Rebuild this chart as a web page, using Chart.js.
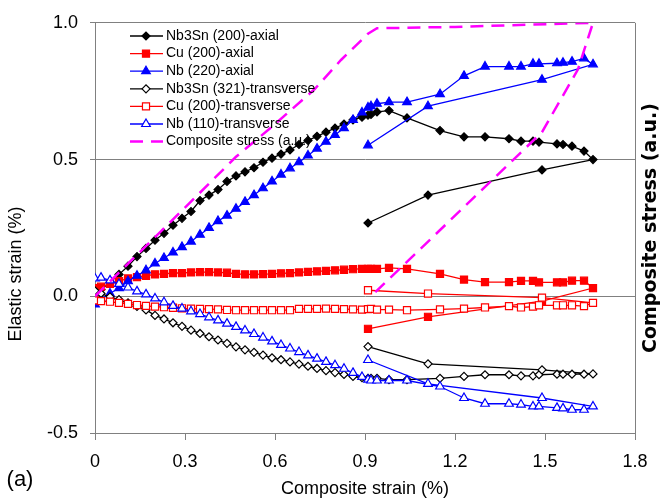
<!DOCTYPE html>
<html>
<head>
<meta charset="utf-8">
<script src="https://cdn.jsdelivr.net/npm/chart.js@4.4.1/dist/chart.umd.min.js"></script>
<style>
  html, body { margin: 0; padding: 0; background: #fff; }
  #wrap { width: 665px; height: 502px; position: relative; }
</style>
</head>
<body>
<div id="wrap"><canvas id="strainChart"></canvas></div>
<script>
// composite strain (%) of each diffraction measurement (load up to 1.66 %, then unload)
const strain = [0.00, 0.02, 0.05, 0.08, 0.11, 0.14, 0.17, 0.20, 0.23, 0.26,
                0.29, 0.32, 0.35, 0.38, 0.41, 0.44, 0.47, 0.50, 0.53, 0.56,
                0.59, 0.62, 0.65, 0.68, 0.71, 0.74, 0.77, 0.80, 0.83, 0.86,
                0.89, 0.91, 0.92, 0.94, 0.98, 1.04, 1.15, 1.23, 1.30, 1.38,
                1.42, 1.46, 1.48, 1.54, 1.56, 1.59, 1.63, 1.66, 1.49, 1.11, 0.91];

// elastic strain (%) per peak
const nb3snAxial = [0.010, 0.025, 0.050, 0.080, 0.110, 0.145, 0.175, 0.205, 0.230, 0.260,
                    0.285, 0.310, 0.350, 0.370, 0.390, 0.420, 0.440, 0.455, 0.470, 0.490,
                    0.505, 0.520, 0.535, 0.555, 0.570, 0.585, 0.600, 0.615, 0.630, 0.645,
                    0.655, 0.662, 0.665, 0.674, 0.679, 0.652, 0.606, 0.583, 0.583, 0.576,
                    0.567, 0.567, 0.564, 0.557, 0.555, 0.549, 0.531, 0.500, 0.462, 0.370, 0.268];
const cuAxial = [0.030, 0.035, 0.045, 0.055, 0.065, 0.070, 0.075, 0.080, 0.082, 0.085,
                 0.085, 0.087, 0.088, 0.088, 0.087, 0.086, 0.082, 0.080, 0.080, 0.081,
                 0.082, 0.084, 0.085, 0.087, 0.089, 0.091, 0.093, 0.095, 0.097, 0.099,
                 0.100, 0.100, 0.100, 0.100, 0.104, 0.100, 0.082, 0.061, 0.052, 0.052,
                 0.056, 0.056, 0.051, 0.051, 0.051, 0.057, 0.057, 0.030, -0.018, -0.075, -0.119];
const nbAxial = [-0.030, -0.010, 0.010, 0.030, 0.055, 0.075, 0.095, 0.120, 0.140, 0.160,
                 0.180, 0.200, 0.225, 0.250, 0.275, 0.295, 0.320, 0.345, 0.370, 0.395,
                 0.420, 0.445, 0.468, 0.490, 0.515, 0.540, 0.565, 0.590, 0.615, 0.645,
                 0.672, 0.690, 0.695, 0.704, 0.710, 0.710, 0.739, 0.806, 0.840, 0.840,
                 0.840, 0.850, 0.850, 0.852, 0.854, 0.858, 0.870, 0.848, 0.792, 0.695, 0.552];
const nb3snTrans = [0.020, 0.010, -0.002, -0.012, -0.024, -0.037, -0.050, -0.070, -0.083, -0.097,
                    -0.110, -0.124, -0.136, -0.148, -0.160, -0.172, -0.185, -0.196, -0.205, -0.215,
                    -0.225, -0.232, -0.240, -0.248, -0.256, -0.264, -0.272, -0.279, -0.286, -0.293,
                    -0.298, -0.300, -0.300, -0.300, -0.305, -0.305, -0.300, -0.293, -0.287, -0.287,
                    -0.291, -0.291, -0.287, -0.285, -0.285, -0.285, -0.285, -0.284, -0.269, -0.247, -0.184];
const cuTrans = [-0.015, -0.018, -0.020, -0.024, -0.028, -0.032, -0.035, -0.038, -0.040, -0.042,
                 -0.044, -0.045, -0.046, -0.047, -0.048, -0.050, -0.051, -0.051, -0.051, -0.051,
                 -0.051, -0.051, -0.051, -0.046, -0.046, -0.046, -0.045, -0.046, -0.047, -0.048,
                 -0.049, -0.047, -0.046, -0.049, -0.049, -0.051, -0.048, -0.045, -0.041, -0.036,
                 -0.041, -0.038, -0.033, -0.033, -0.033, -0.033, -0.036, -0.024, -0.005, 0.010, 0.022];
const nbTrans = [0.065, 0.068, 0.058, 0.045, 0.032, 0.018, 0.007, -0.008, -0.022, -0.035,
                 -0.045, -0.055, -0.065, -0.077, -0.088, -0.100, -0.112, -0.125, -0.138, -0.151,
                 -0.165, -0.178, -0.191, -0.204, -0.216, -0.228, -0.240, -0.252, -0.265, -0.280,
                 -0.295, -0.305, -0.308, -0.308, -0.308, -0.308, -0.330, -0.372, -0.393, -0.393,
                 -0.396, -0.403, -0.403, -0.408, -0.410, -0.415, -0.415, -0.403, -0.372, -0.320, -0.233];

// composite stress curve (a.u.), on its own hidden right-hand scale
const stressStrain = [0.00, 0.12, 0.25, 0.47, 0.59, 0.73, 0.82, 0.91, 0.94, 1.20, 1.66, 1.61, 1.49, 0.92];
const stressLevel  = [0.00, 0.13, 0.27, 0.51, 0.62, 0.755, 0.864, 0.96, 0.98, 0.985, 1.00, 0.83, 0.60, 0.00];

const xTicks = [0, 0.3, 0.6, 0.9, 1.2, 1.5, 1.8];
const yTicks = [-0.5, 0.0, 0.5, 1.0];

const GRID = '#808080';
const FONT = '"Liberation Sans", Arial, sans-serif';

function pts(xs, ys) {
    return xs.map((x, i) => ({ x: x, y: ys[i] }));
}

function series(label, ys, color, style, filled, radius, order) {
    return {
        label: label,
        data: pts(strain, ys),
        showLine: true,
        borderColor: color,
        backgroundColor: color,
        borderWidth: 1.3,
        pointStyle: style,
        pointRadius: radius,
        pointBorderWidth: 1.2,
        pointBorderColor: color,
        pointBackgroundColor: filled ? color : '#ffffff',
        order: order
    };
}

const datasets = [
    series('Nb3Sn (200)-axial', nb3snAxial, '#000000', 'rectRot', true, 4, 6),
    series('Cu (200)-axial', cuAxial, '#ff0000', 'rect', true, 5, 5),
    series('Nb (220)-axial', nbAxial, '#0000ff', 'triangle', true, 5, 4),
    series('Nb3Sn (321)-transverse', nb3snTrans, '#000000', 'rectRot', false, 4, 3),
    series('Cu (200)-transverse', cuTrans, '#ff0000', 'rect', false, 5, 2),
    series('Nb (110)-transverse', nbTrans, '#0000ff', 'triangle', false, 5, 1),
    {
        label: 'Composite stress (a.u.)',
        data: pts(stressStrain, stressLevel),
        yAxisID: 'y2',
        showLine: true,
        borderColor: '#ff00ff',
        backgroundColor: '#ff00ff',
        borderWidth: 2.5,
        borderDash: [13, 8],
        pointRadius: 0,
        order: 0
    }
];

// legend inside the plot, titles, frame and panel label
const extras = {
    id: 'extras',
    afterDraw(chart) {
        const ctx = chart.ctx;
        const a = chart.chartArea;
        ctx.save();

        // right frame line
        ctx.strokeStyle = GRID;
        ctx.lineWidth = 1;
        ctx.beginPath();
        ctx.moveTo(Math.round(a.right) + 0.5, a.top);
        ctx.lineTo(Math.round(a.right) + 0.5, a.bottom);
        ctx.stroke();

        // legend
        ctx.font = '14px ' + FONT;
        ctx.textBaseline = 'middle';
        ctx.textAlign = 'left';
        chart.data.datasets.forEach((ds, i) => {
            const y = 36 + i * 17.6;
            ctx.strokeStyle = ds.borderColor;
            ctx.lineWidth = ds.borderWidth;
            ctx.setLineDash(ds.borderDash || []);
            ctx.beginPath();
            ctx.moveTo(130, y);
            ctx.lineTo(163, y);
            ctx.stroke();
            ctx.setLineDash([]);
            if (ds.pointRadius > 0) {
                ctx.fillStyle = ds.pointBackgroundColor;
                ctx.strokeStyle = ds.pointBorderColor;
                ctx.lineWidth = ds.pointBorderWidth;
                Chart.helpers.drawPoint(ctx, {
                    pointStyle: ds.pointStyle,
                    radius: ds.pointRadius,
                    rotation: 0,
                    borderWidth: ds.pointBorderWidth
                }, 146, y);
            }
            ctx.fillStyle = '#000';
            ctx.fillText(ds.label, 166, y);
        });

        // axis titles
        ctx.fillStyle = '#000';
        ctx.textAlign = 'center';
        ctx.textBaseline = 'middle';
        ctx.save();
        ctx.translate(16, 274);
        ctx.rotate(-Math.PI / 2);
        ctx.font = '18px ' + FONT;
        ctx.fillText('Elastic strain (%)', 0, 0);
        ctx.restore();

        ctx.save();
        ctx.translate(651, 228);
        ctx.rotate(-Math.PI / 2);
        ctx.font = 'bold 19px "DejaVu Sans", sans-serif';
        ctx.fillText('Composite stress (a.u.)', 0, 0);
        ctx.restore();

        ctx.font = '22px ' + FONT;
        ctx.fillText('(a)', 20, 480);
        ctx.restore();
    }
};

const ctx = document.getElementById('strainChart').getContext('2d');
const strainChart = new Chart(ctx, {
    type: 'scatter',
    data: { datasets: datasets },
    options: {
        responsive: true,
        maintainAspectRatio: false,
        animation: false,
        events: [],
        layout: { padding: { top: 20, right: 30, left: 0, bottom: 0 } },
        plugins: {
            legend: { display: false },
            tooltip: { enabled: false }
        },
        scales: {
            x: {
                type: 'linear',
                min: 0,
                max: 1.8,
                afterBuildTicks: scale => { scale.ticks = xTicks.map(v => ({ value: v })); },
                afterFit: scale => { scale.height = 69; },
                ticks: {
                    color: '#000',
                    padding: 11,
                    maxRotation: 0,
                    font: { family: FONT, size: 18 },
                    callback: v => v === 0 ? '0' : v.toFixed(1)
                },
                grid: { drawOnChartArea: false, color: GRID, tickLength: 7 },
                border: { color: GRID },
                title: {
                    display: true,
                    text: 'Composite strain (%)',
                    color: '#000',
                    font: { family: FONT, size: 18 },
                    padding: { top: 0, bottom: 2 }
                }
            },
            y: {
                type: 'linear',
                min: -0.5,
                max: 1.0,
                afterBuildTicks: scale => { scale.ticks = yTicks.map(v => ({ value: v })); },
                afterFit: scale => { scale.width = 95; },
                ticks: {
                    color: '#000',
                    padding: 12,
                    font: { family: FONT, size: 18 },
                    callback: v => v.toFixed(1)
                },
                grid: { color: GRID, tickLength: 5 },
                border: { color: GRID }
            },
            y2: {
                type: 'linear',
                position: 'right',
                min: -0.5,
                max: 1.0,
                display: false
            }
        }
    },
    plugins: [extras]
});
</script>
</body>
</html>
